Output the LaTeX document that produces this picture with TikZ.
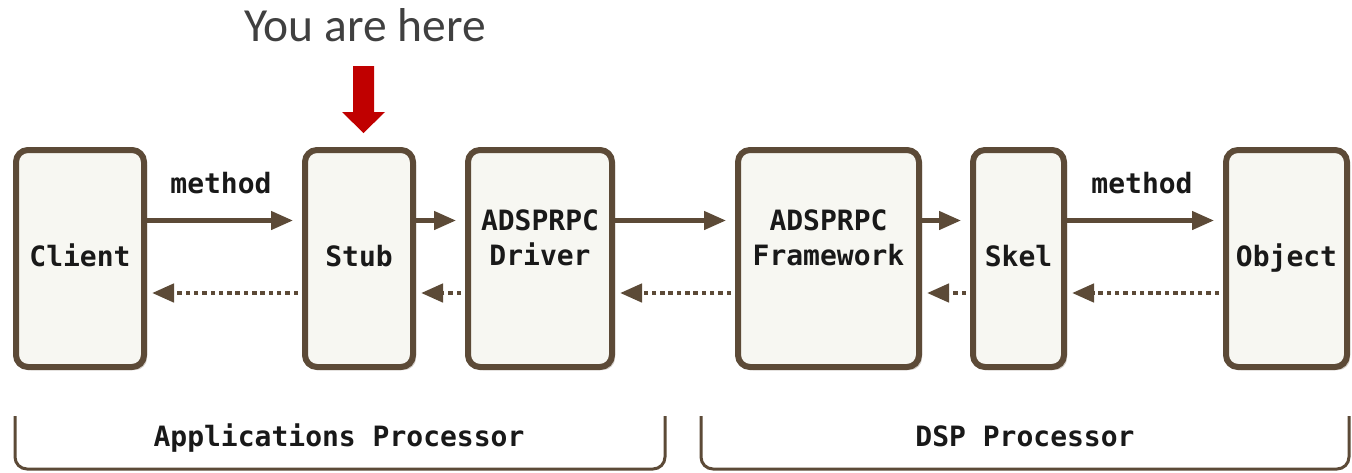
\documentclass[tikz,border=0pt]{standalone}
\usepackage{fontspec}
\setmonofont{DejaVu Sans Mono}
\newfontfamily\headfont{Carlito}
\usetikzlibrary{arrows.meta,shadows}
\definecolor{boxline}{HTML}{5C4A37}
\definecolor{boxfill}{HTML}{F7F7F2}
\definecolor{herered}{HTML}{C00000}
\definecolor{heretext}{HTML}{404040}
\tikzset{
  x=1pt, y=-1pt,
  compbox/.style={draw=boxline, fill=boxfill, line width=6pt, rounded corners=12pt,
    minimum height=217pt, inner sep=0pt,
    drop shadow={shadow xshift=3pt, shadow yshift=-3pt, opacity=0.3, fill=boxline}},
  lbl/.style={font=\ttfamily\bfseries\fontsize{28}{35}\selectfont, text=black!90,
    align=center, anchor=base, inner sep=0pt},
  call/.style={draw=boxline, line width=4.5pt, shorten >=9pt,
    -{Triangle[length=22pt,width=18pt]}},
  reply/.style={draw=boxline, line width=4.5pt, dash pattern=on 4.5pt off 3.8pt,
    shorten >=5pt, shorten <=4pt, -{Triangle[length=22pt,width=18pt]}},
  bracket/.style={draw=boxline, line width=3pt, rounded corners=12pt},
}
\begin{document}
\begin{tikzpicture}
\useasboundingbox[fill=white] (0,0) rectangle (1352,472);

% components
\node[compbox, minimum width=128pt] (client) at (80,258.5) {};
\node[compbox, minimum width=108pt] (stub) at (359,258.5) {};
\node[compbox, minimum width=144pt] (driver) at (540,258.5) {};
\node[compbox, minimum width=181pt] (fw) at (828.5,258.5) {};
\node[compbox, minimum width=91pt] (skel) at (1018.5,258.5) {};
\node[compbox, minimum width=121pt] (object) at (1286.5,258.5) {};

% component labels (base anchor sits on the last line)
\node[lbl] (clientlbl) at ([yshift=-7.5pt]client.center) {Client};
\node[lbl] (stublbl) at ([yshift=-7.5pt]stub.center) {Stub};
\node[lbl] (driverlbl) at ([yshift=-6.5pt]driver.center) {ADSPRPC\\Driver};
\node[lbl] (fwlbl) at ([yshift=-6.5pt]fw.center) {ADSPRPC\\Framework};
\node[lbl] (skellbl) at ([yshift=-7.5pt]skel.center) {Skel};
\node[lbl] (objectlbl) at ([yshift=-7.5pt]object.center) {Object};

% forward calls
\draw[call] ([yshift=38pt]client.east) -- ([yshift=38pt]stub.west);
\draw[call] ([yshift=38pt]stub.east) -- ([yshift=38pt]driver.west);
\draw[call] ([yshift=38pt]driver.east) -- ([yshift=38pt]fw.west);
\draw[call] ([yshift=38pt]fw.east) -- ([yshift=38pt]skel.west);
\draw[call] ([yshift=38pt]skel.east) -- ([yshift=38pt]object.west);

% returns
\draw[reply] ([yshift=-34.5pt]stub.west) -- ([yshift=-34.5pt]client.east);
\draw[reply] ([yshift=-34.5pt]driver.west) -- ([yshift=-34.5pt]stub.east);
\draw[reply] ([yshift=-34.5pt]fw.west) -- ([yshift=-34.5pt]driver.east);
\draw[reply] ([yshift=-34.5pt]skel.west) -- ([yshift=-34.5pt]fw.east);
\draw[reply] ([yshift=-34.5pt]object.west) -- ([yshift=-34.5pt]skel.east);

% method labels
\node[lbl] (m1) at (221,193) {method};
\node[lbl] (m2) at (1142,193) {method};

% processor brackets
\draw[bracket] (15,416) |- (340,469) -| (665,416);
\draw[bracket] (701,416) |- (1025,469) -| (1349,416);
\node[lbl] (aplbl) at (339,446) {Applications Processor};
\node[lbl] (dsplbl) at (1025,446) {DSP Processor};

% marker
\node[font=\headfont\fontsize{47.5}{50}\selectfont, text=heretext, anchor=base, inner sep=0pt]
  (here) at (365,41) {You are here};
\fill[herered] (353,66) -- (374,66) -- (374,112) -- (385,112) -- (363.5,133)
  -- (342,112) -- (353,112) -- cycle;
\end{tikzpicture}
\end{document}
